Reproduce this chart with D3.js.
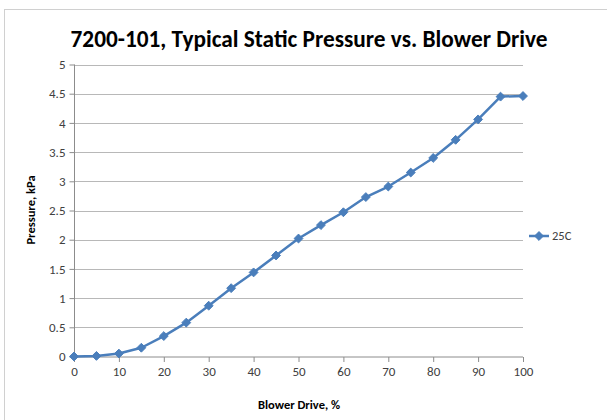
<!DOCTYPE html>
<html><head><meta charset="utf-8">
<script src="https://cdn.jsdelivr.net/npm/d3@7"></script>
<style>
html,body{margin:0;padding:0;background:#fff;}
svg{display:block;font-family:Calibri,Carlito,Lato,"Open Sans",sans-serif;}
</style></head>
<body><svg id="chart" width="607" height="420"></svg>
<script>
const title = "7200-101, Typical Static Pressure vs. Blower Drive";
const xLabel = "Blower Drive, %";
const yLabel = "Pressure, kPa";
const seriesName = "25C";
const blowerDrive = [0,5,10,15,20,25,30,35,40,45,50,55,60,65,70,75,80,85,90,95,100];
const pressure = [0,0.01,0.05,0.15,0.35,0.58,0.87,1.17,1.44,1.73,2.02,2.25,2.47,2.73,2.91,3.15,3.40,3.71,4.06,4.45,4.46];
const xTicks = [0,10,20,30,40,50,60,70,80,90,100];
const yTicks = [0,0.5,1,1.5,2,2.5,3,3.5,4,4.5,5];

(function(){
const svg = d3.select("#chart");
const color = "#4a7ebb";
const pLeft = 74, pRight = 523, pTop = 64.5, pBottom = 356.5;
const x = d3.scaleLinear().domain([0,100]).range([pLeft,pRight]);
const y = d3.scaleLinear().domain([0,5]).range([pBottom,pTop]);

// chart border
svg.append("rect").attr("x",4.5).attr("y",9.5).attr("width",620).attr("height",430)
  .attr("fill","none").attr("stroke","#d0d0d0").attr("stroke-width",1);

// title
svg.append("text").attr("x",309).attr("y",47).attr("text-anchor","middle")
  .attr("font-size",23.3).attr("font-weight","bold").attr("fill","#000").text(title);

// gridlines
svg.append("g").selectAll("line").data(yTicks.filter(d=>d>0)).join("line")
  .attr("x1",pLeft).attr("x2",pRight)
  .attr("y1",d=>Math.round(y(d))+0.5).attr("y2",d=>Math.round(y(d))+0.5)
  .attr("stroke","#b8b8b8").attr("stroke-width",1);

// axes
const yAxis = d3.axisLeft(y).tickValues(yTicks).tickSize(5).tickPadding(4).tickFormat(d3.format("~g"));
const gy = svg.append("g").attr("transform",`translate(${pLeft+0.5},0)`).call(yAxis);
const xAxis = d3.axisBottom(x).tickValues(xTicks).tickSize(5).tickPadding(5);
const gx = svg.append("g").attr("transform",`translate(0,${pBottom+0.5})`).call(xAxis);
[gy,gx].forEach(g=>{
  g.select(".domain").attr("stroke","#8c8c8c");
  g.selectAll(".tick line").attr("stroke","#8c8c8c");
  g.selectAll(".tick text").attr("font-size",13).attr("fill","#404040")
    .attr("font-family","Calibri,Carlito,Lato,'Open Sans',sans-serif");
});
gy.select(".domain").attr("d",`M0,${pTop}V${pBottom}`);
gx.select(".domain").attr("d",`M${pLeft},0H${pRight}`);

// axis titles
svg.append("text").attr("x",299).attr("y",409).attr("text-anchor","middle")
  .attr("font-size",12.5).attr("font-weight","bold").attr("fill","#000").text(xLabel);
svg.append("text").attr("transform","translate(35,210) rotate(-90)").attr("text-anchor","middle")
  .attr("font-size",12.5).attr("font-weight","bold").attr("fill","#000").text(yLabel);

// series
const pts = blowerDrive.map((d,i)=>[d,pressure[i]]);
svg.append("path").datum(pts)
  .attr("d",d3.line().x(d=>x(d[0])).y(d=>y(d[1])))
  .attr("fill","none").attr("stroke",color).attr("stroke-width",2.5).attr("stroke-linejoin","round");
const diamond = d3.symbol().type(d3.symbolDiamond2).size(50);
svg.append("g").selectAll("path").data(pts).join("path")
  .attr("transform",d=>`translate(${x(d[0])},${y(d[1])})`)
  .attr("d",diamond).attr("fill",color).attr("stroke",color).attr("stroke-width",1);

// legend
const ly = 236;
svg.append("line").attr("x1",529).attr("x2",549).attr("y1",ly).attr("y2",ly)
  .attr("stroke",color).attr("stroke-width",2.5);
svg.append("path").attr("transform",`translate(539,${ly})`).attr("d",diamond)
  .attr("fill",color).attr("stroke",color);
svg.append("text").attr("x",552).attr("y",ly+4).attr("font-size",12.5).attr("fill","#404040").text(seriesName);
})();
</script></body></html>
